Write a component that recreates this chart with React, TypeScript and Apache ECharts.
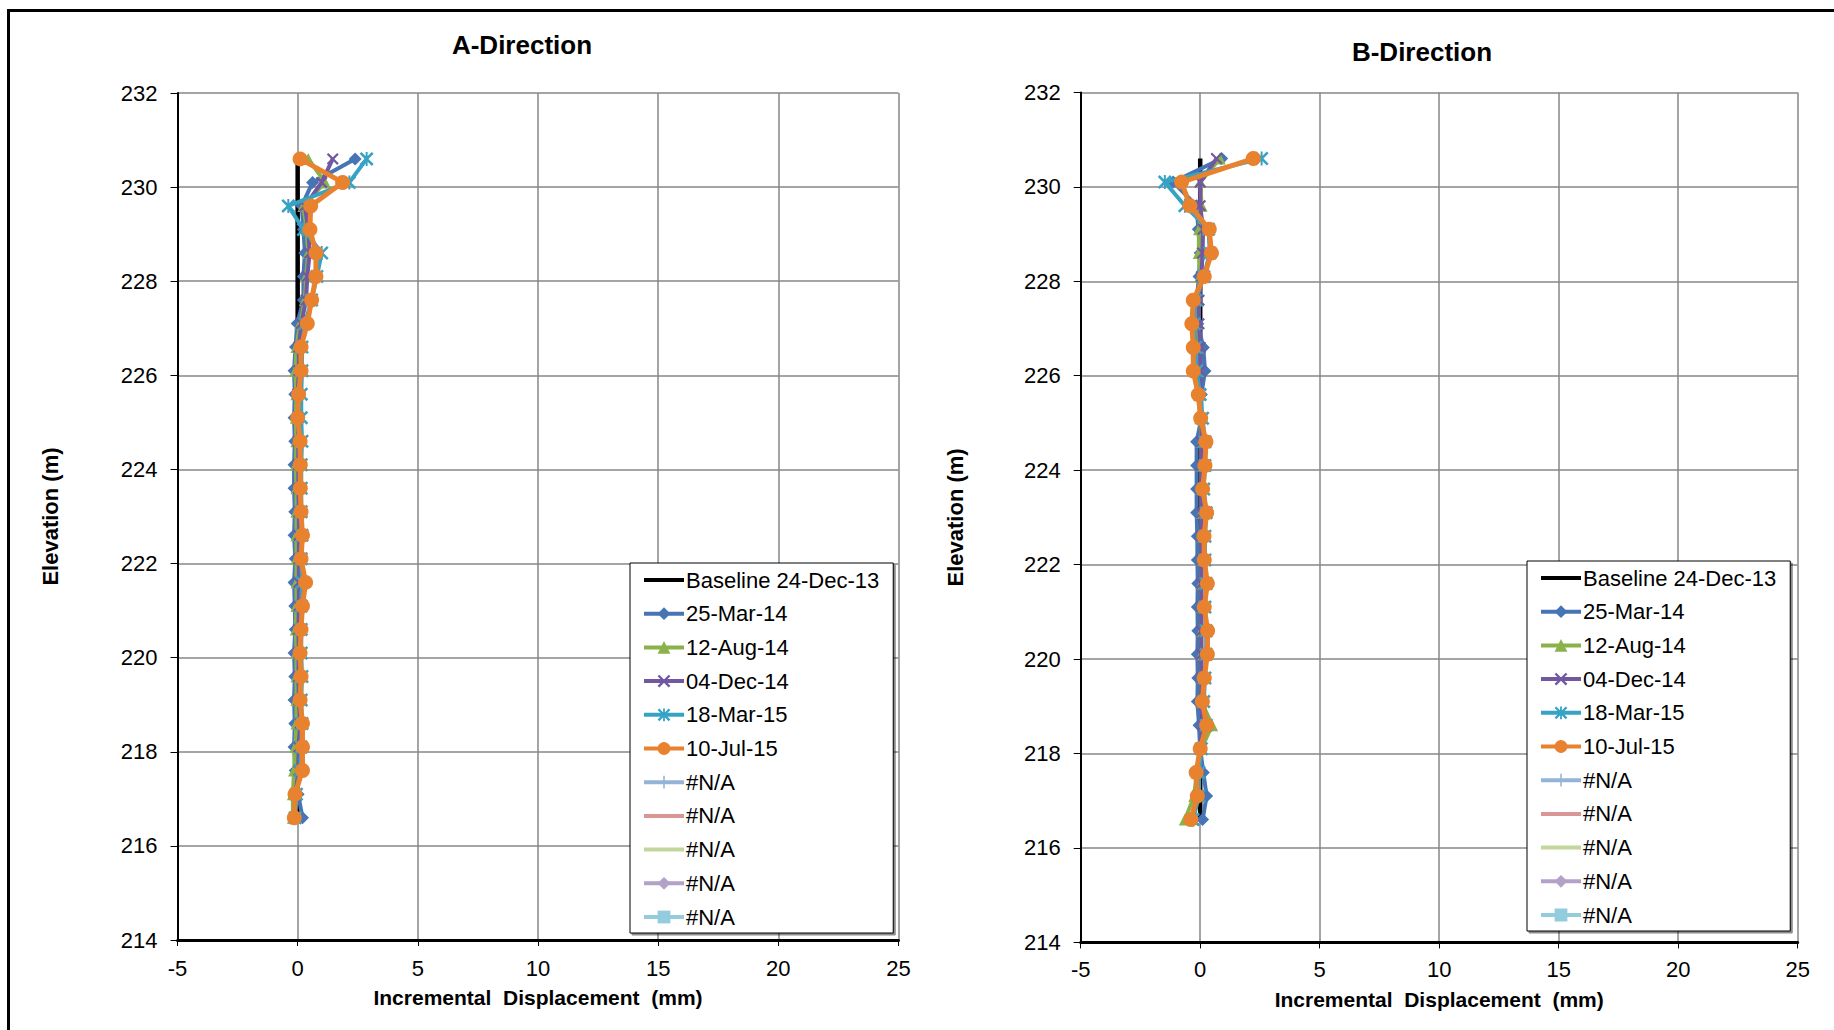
import React, { useEffect, useRef } from "react";
import * as echarts from "echarts";

// Elevations (m) of the readings, top to bottom
const elevations = [
  230.6, 230.1, 229.6, 229.1, 228.6, 228.1, 227.6, 227.1, 226.6, 226.1,
  225.6, 225.1, 224.6, 224.1, 223.6, 223.1, 222.6, 222.1, 221.6, 221.1,
  220.6, 220.1, 219.6, 219.1, 218.6, 218.1, 217.6, 217.1, 216.6,
];

const seriesNames = ["Baseline 24-Dec-13", "25-Mar-14", "12-Aug-14", "04-Dec-14", "18-Mar-15", "10-Jul-15"];
const naNames = ["#N/A-1", "#N/A-2", "#N/A-3", "#N/A-4", "#N/A-5"];

// A-Direction incremental displacement (mm)
const aBaseline = elevations.map(() => 0);
const aMar14 = [2.39, 0.62, 0.17, 0.24, 0.3, 0.24, 0.24, -0.02, -0.09, -0.15, -0.12, -0.15, -0.12, -0.15, -0.15, -0.12, -0.15, -0.1, -0.15, -0.12, -0.1, -0.15, -0.12, -0.15, -0.12, -0.15, -0.1, 0.02, 0.2];
const aAug14 = [0.44, 1.14, 0.24, 0.37, 0.44, 0.35, 0.3, 0.1, -0.05, -0.1, -0.05, -0.08, -0.05, -0.08, -0.05, -0.05, -0.05, -0.05, -0.05, -0.05, -0.08, -0.05, -0.05, -0.05, -0.05, -0.1, -0.15, -0.2, -0.2];
const aDec14 = [1.46, 1.0, 0.3, 0.44, 0.5, 0.4, 0.35, 0.15, 0.05, 0.05, 0.0, 0.03, 0.02, 0.03, 0.03, 0.05, 0.05, 0.05, 0.05, 0.05, 0.03, 0.05, 0.03, 0.05, 0.1, 0.05, 0.05, -0.1, -0.1];
const aMar15 = [2.87, 2.15, -0.39, 0.24, 1.0, 0.8, 0.58, 0.3, 0.18, 0.18, 0.15, 0.15, 0.18, 0.15, 0.15, 0.15, 0.18, 0.15, 0.18, 0.15, 0.15, 0.15, 0.18, 0.15, 0.18, 0.15, 0.1, -0.05, -0.1];
const aJul15 = [0.1, 1.87, 0.54, 0.51, 0.76, 0.76, 0.58, 0.4, 0.14, 0.14, 0.04, 0.0, 0.1, 0.11, 0.11, 0.14, 0.2, 0.14, 0.33, 0.2, 0.14, 0.1, 0.14, 0.1, 0.2, 0.2, 0.2, -0.11, -0.14];

// B-Direction incremental displacement (mm)
const bBaseline = elevations.map(() => 0);
const bMar14 = [0.9, -1.13, -0.15, -0.08, 0.0, -0.05, -0.15, -0.1, 0.13, 0.2, 0.05, 0.05, -0.15, -0.15, -0.15, -0.15, -0.12, -0.12, -0.1, -0.12, -0.1, -0.12, -0.1, -0.12, -0.05, 0.0, 0.13, 0.27, 0.1];
const bAug14 = [0.82, 0.0, 0.06, -0.05, -0.06, 0.0, -0.1, -0.15, -0.1, -0.05, -0.05, 0.0, 0.05, 0.05, 0.05, 0.05, 0.05, 0.05, 0.05, 0.05, 0.05, 0.05, 0.05, 0.05, 0.5, 0.05, -0.15, -0.25, -0.64];
const bDec14 = [0.68, 0.0, 0.0, 0.12, 0.1, 0.05, -0.05, -0.05, 0.0, 0.0, 0.0, 0.05, 0.05, 0.05, 0.05, 0.05, 0.05, 0.05, 0.05, 0.05, 0.05, 0.05, 0.05, 0.05, 0.1, 0.0, -0.1, -0.1, -0.3];
const bMar15 = [2.57, -1.48, -0.64, 0.35, 0.4, 0.15, -0.2, -0.25, -0.2, -0.15, 0.0, 0.1, 0.2, 0.2, 0.15, 0.25, 0.2, 0.2, 0.25, 0.2, 0.25, 0.25, 0.2, 0.15, 0.25, 0.05, -0.05, -0.05, -0.3];
const bJul15 = [2.22, -0.78, -0.43, 0.38, 0.47, 0.17, -0.29, -0.35, -0.29, -0.29, -0.08, 0.02, 0.24, 0.2, 0.1, 0.27, 0.16, 0.17, 0.3, 0.17, 0.31, 0.3, 0.17, 0.09, 0.27, 0.0, -0.17, -0.12, -0.39];

const xTicksMin = -5;
const xTicksMax = 25;
const yTicksMin = 214;
const yTicksMax = 232;

const FONT = "'Liberation Sans', Arial, sans-serif";

const X_SYMBOL = "path://M0,1.3L1.3,0L5,3.7L8.7,0L10,1.3L6.3,5L10,8.7L8.7,10L5,6.3L1.3,10L0,8.7L3.7,5Z";
const STAR_SYMBOL = "path://M0,1.3L1.3,0L5,3.7L8.7,0L10,1.3L6.3,5L10,8.7L8.7,10L5,6.3L1.3,10L0,8.7L3.7,5Z M4.3,0L5.7,0L5.7,10L4.3,10Z";
const PLUS_SYMBOL = "path://M4.4,0L5.6,0L5.6,4.4L10,4.4L10,5.6L5.6,5.6L5.6,10L4.4,10L4.4,5.6L0,5.6L0,4.4L4.4,4.4Z";

const styles = [
  { color: "#000000", symbol: "none", size: 0, width: 4.5 },
  { color: "#4674B4", symbol: "diamond", size: 13, width: 4 },
  { color: "#8BB14B", symbol: "triangle", size: 12, width: 4 },
  { color: "#7158A1", symbol: X_SYMBOL, size: 12, width: 4 },
  { color: "#37A3C4", symbol: STAR_SYMBOL, size: 14, width: 4 },
  { color: "#E9822F", symbol: "circle", size: 15, width: 5 },
];
const naStyles = [
  { color: "#95B3D7", symbol: PLUS_SYMBOL, size: 10 },
  { color: "#D99694", symbol: "none", size: 0 },
  { color: "#C3D69B", symbol: "none", size: 0 },
  { color: "#B3A2C7", symbol: "diamond", size: 12 },
  { color: "#93CDDD", symbol: "rect", size: 12 },
];

function buildSeries(idx: number, values: number[][]) {
  const out: any[] = [];
  values.forEach((vals, i) => {
    const st = styles[i];
    out.push({
      type: "line",
      name: seriesNames[i],
      xAxisIndex: idx,
      yAxisIndex: idx,
      data: elevations.map((e, k) => [vals[k], e]),
      symbol: st.symbol,
      symbolSize: st.size,
      showSymbol: st.symbol !== "none",
      lineStyle: { color: st.color, width: st.width },
      itemStyle: { color: st.color },
      z: 2 + i,
      emphasis: { disabled: true },
      clip: false,
    });
  });
  naNames.forEach((n, i) => {
    const st = naStyles[i];
    out.push({
      type: "line",
      name: n,
      xAxisIndex: idx,
      yAxisIndex: idx,
      data: [],
      symbol: st.symbol,
      symbolSize: st.size,
      lineStyle: { color: st.color, width: 4 },
      itemStyle: { color: st.color },
      z: 10,
    });
  });
  return out;
}

const legendData = [
  ...seriesNames.map((n, i) =>
    styles[i].symbol === "none" ? { name: n, itemStyle: { opacity: 0 } } : { name: n }
  ),
  ...naNames.map((n, i) =>
    naStyles[i].symbol === "none" ? { name: n, itemStyle: { opacity: 0 } } : { name: n }
  ),
];

function makeLegend(left: number, top: number) {
  return {
    left,
    top,
    orient: "vertical",
    data: legendData,
    itemWidth: 40,
    itemHeight: 16,
    itemGap: 11.7,
    padding: [6, 14, 5, 12],
    backgroundColor: "#ffffff",
    borderColor: "#000000",
    borderWidth: 1,
    shadowColor: "rgba(0,0,0,0.45)",
    shadowOffsetX: 2,
    shadowOffsetY: 2,
    shadowBlur: 1,
    selectedMode: false,
    lineStyle: { width: 4 },
    formatter: (name: string) => (name.startsWith("#N/A") ? "#N/A" : name),
    textStyle: { fontFamily: FONT, fontSize: 22, color: "#000", lineHeight: 22, padding: [0, 0, 0, -3] },
  };
}

function makeXAxis(gridIndex: number, labelMargin: number) {
  return {
    type: "value",
    gridIndex,
    min: xTicksMin,
    max: xTicksMax,
    interval: 5,
    name: "Incremental  Displacement  (mm)",
    nameLocation: "middle",
    nameGap: 47,
    nameTextStyle: { fontFamily: FONT, fontSize: 21, fontWeight: "bold", color: "#000" },
    axisLine: { show: true, onZero: false, lineStyle: { color: "#000", width: 3 } },
    axisTick: { show: true, length: 6, lineStyle: { color: "#000", width: 1 } },
    axisLabel: { fontFamily: FONT, fontSize: 22, color: "#000", margin: labelMargin },
    splitLine: { show: true, lineStyle: { color: "#878787", width: 1.5 } },
  };
}

function makeYAxis(gridIndex: number, nameGap: number) {
  return {
    type: "value",
    gridIndex,
    min: yTicksMin,
    max: yTicksMax,
    interval: 2,
    name: "Elevation (m)",
    nameLocation: "middle",
    nameGap,
    nameTextStyle: { fontFamily: FONT, fontSize: 22, fontWeight: "bold", color: "#000" },
    axisLine: { show: true, onZero: false, lineStyle: { color: "#000", width: 2 } },
    axisTick: { show: true, length: 7, lineStyle: { color: "#000", width: 1 } },
    axisLabel: { fontFamily: FONT, fontSize: 22, color: "#000", margin: 20 },
    splitLine: { show: true, lineStyle: { color: "#878787", width: 1.5 } },
  };
}

export default function App() {
  const ref = useRef<HTMLDivElement>(null);

  useEffect(() => {
    document.body.style.margin = "0";
    if (!ref.current) return;
    const chart = echarts.init(ref.current, null, { renderer: "svg" });
    const option: any = {
      animation: false,
      backgroundColor: "#ffffff",
      textStyle: { fontFamily: FONT },
      title: [
        {
          text: "A-Direction",
          left: 522,
          top: 32,
          textAlign: "center",
          padding: 0,
          textStyle: { fontFamily: FONT, fontSize: 26, fontWeight: "bold", color: "#000" },
        },
        {
          text: "B-Direction",
          left: 1422,
          top: 39,
          textAlign: "center",
          padding: 0,
          textStyle: { fontFamily: FONT, fontSize: 26, fontWeight: "bold", color: "#000" },
        },
      ],
      grid: [
        { left: 177.5, top: 93, width: 721, height: 847 },
        { left: 1080.7, top: 92.4, width: 717, height: 850 },
      ],
      xAxis: [makeXAxis(0, 17), makeXAxis(1, 16)],
      yAxis: [makeYAxis(0, 116), makeYAxis(1, 114)],
      legend: [makeLegend(630, 563), makeLegend(1527, 561)],
      series: [
        ...buildSeries(0, [aBaseline, aMar14, aAug14, aDec14, aMar15, aJul15]),
        ...buildSeries(1, [bBaseline, bMar14, bAug14, bDec14, bMar15, bJul15]),
      ],
      graphic: [
        {
          type: "polyline",
          shape: { points: [[8.5, 1030], [8.5, 10.5], [1834, 10.5]] },
          style: { stroke: "#000", lineWidth: 3, fill: "none" },
          silent: true,
        },
      ],
    };
    chart.setOption(option);
    return () => chart.dispose();
  }, []);

  return <div ref={ref} style={{ width: 1834, height: 1030 }} />;
}
